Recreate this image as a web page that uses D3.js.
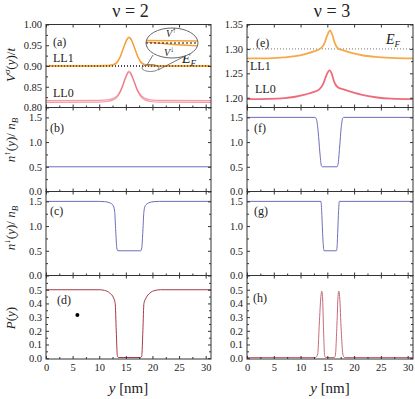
<!DOCTYPE html>
<html>
<head>
<meta charset="utf-8">
<script src="https://cdn.jsdelivr.net/npm/d3@7"></script>
<style>
  body { margin: 0; background: #fff; }
  svg { display: block; }
  text { font-family: "Liberation Serif", "DejaVu Serif", serif; fill: #222; }
</style>
</head>
<body>
<div id="chart"></div>
<script>
// ---- data: [y (nm), value] ----
const xTicks = [0, 5, 10, 15, 20, 25, 30]
const columnTitles = ['ν = 2', 'ν = 3']
const fermiLevel = [0.90, 1.30]

// nu = 2
const ll1Up2 = [[0,0.901],[9,0.901],[11,0.9015],[12.3,0.903],[13.2,0.908],[13.9,0.922],[14.6,0.946],[15.2,0.965],[15.6,0.970],[16.0,0.965],[16.6,0.946],[17.3,0.922],[18.0,0.908],[18.9,0.903],[20.2,0.9015],[22,0.901],[31,0.901]]
const ll1Dn2 = [[0,0.899],[9,0.899],[11,0.8995],[12.3,0.901],[13.2,0.906],[13.9,0.920],[14.6,0.944],[15.2,0.963],[15.6,0.968],[16.0,0.963],[16.6,0.944],[17.3,0.920],[18.0,0.906],[18.9,0.901],[20.2,0.8995],[22,0.899],[31,0.899]]
const ll0Up2 = [[0,0.8165],[10,0.817],[11.8,0.819],[12.8,0.823],[13.6,0.832],[14.3,0.85],[14.9,0.872],[15.4,0.886],[15.6,0.888],[15.9,0.884],[16.5,0.866],[17.1,0.845],[17.8,0.83],[18.6,0.822],[19.6,0.8185],[21.5,0.817],[31,0.8165]]
const ll0Dn2 = [[0,0.8125],[10,0.813],[11.8,0.815],[12.8,0.819],[13.6,0.829],[14.3,0.847],[14.9,0.869],[15.4,0.883],[15.6,0.885],[15.9,0.881],[16.5,0.863],[17.1,0.842],[17.8,0.827],[18.6,0.818],[19.6,0.8145],[21.5,0.813],[31,0.8125]]
const nUp2 = [[0,0.5],[31,0.5]]
const nDn2 = [[0,1.5],[10,1.5],[11,1.495],[12,1.47],[12.6,1.42],[12.9,1.3],[13.1,0.9],[13.3,0.56],[13.5,0.5],[17.8,0.5],[18.0,0.56],[18.2,0.9],[18.4,1.3],[18.7,1.42],[19.3,1.47],[20.3,1.495],[21.3,1.5],[31,1.5]]
const pol2 = [[0,0.5],[10,0.5],[11,0.495],[12,0.475],[12.7,0.44],[13.0,0.4],[13.2,0.2],[13.4,0.02],[13.6,0.005],[17.8,0.005],[18.0,0.02],[18.2,0.2],[18.4,0.4],[18.8,0.44],[19.5,0.475],[20.5,0.495],[21.5,0.5],[31,0.5]]
const dot2 = [[5.9, 0.316]]

// nu = 3
const ll1_3 = [[0,1.2805],[4,1.2808],[7,1.2825],[9,1.285],[11,1.29],[12.5,1.295],[13.6,1.300],[14.4,1.31],[15.0,1.328],[15.5,1.338],[15.9,1.33],[16.4,1.312],[17.0,1.301],[18,1.297],[19.5,1.292],[21.5,1.287],[24,1.2835],[27,1.2815],[31,1.2805]]
const ll0_3 = [[0,1.197],[4,1.1975],[7,1.199],[9,1.202],[11,1.207],[12.5,1.212],[13.5,1.217],[14.3,1.23],[14.9,1.248],[15.4,1.256],[15.8,1.25],[16.3,1.232],[16.9,1.222],[18,1.217],[19.5,1.212],[21.5,1.206],[24,1.201],[27,1.198],[31,1.197]]
const nUp3 = [[0,1.5],[12.7,1.5],[13.0,1.45],[13.3,1.2],[13.6,0.8],[13.9,0.52],[14.1,0.5],[16.8,0.5],[17.0,0.55],[17.3,0.9],[17.6,1.3],[17.9,1.49],[18.1,1.5],[31,1.5]]
const nDn3 = [[0,1.5],[13.8,1.5],[13.95,1.3],[14.1,0.9],[14.3,0.55],[14.4,0.5],[16.7,0.5],[16.8,0.55],[16.95,0.9],[17.1,1.3],[17.25,1.5],[31,1.5]]
const pol3 = [[0,0.005],[12.8,0.005],[13.2,0.03],[13.5,0.25],[13.8,0.45],[13.95,0.49],[14.1,0.45],[14.3,0.2],[14.5,0.02],[14.7,0.005],[16.3,0.005],[16.5,0.02],[16.8,0.25],[17.0,0.45],[17.15,0.49],[17.3,0.45],[17.6,0.2],[17.9,0.03],[18.2,0.005],[31,0.005]]

// ---- layout ----
const width = 415
const height = 399
const cols = [[46, 211], [247, 413]]
const rows = [24.5, 107.5, 191.5, 275.5, 359]

const orange = '#f5a035'
const red = '#e8394e'
const blue = '#6d6dbb'

const panels = [
  { col: 0, row: 0, dom: [0.80, 1.00], major: [0.80,0.85,0.90,0.95,1.00], fmt: '.2f', label: '(a)', lx: 53, ly: 46,
    series: [
      { d: ll0Up2, c: red, w: 1.2, o: 0.5 }, { d: ll0Dn2, c: red, w: 1.2, o: 0.5 },
      { d: ll1Up2, c: orange, w: 1.1, o: 1 }, { d: ll1Dn2, c: orange, w: 1.1, o: 1 }] },
  { col: 0, row: 1, dom: [0, 1.7], major: [0,0.5,1.0,1.5], fmt: '.1f', label: '(b)', lx: 50, ly: 132,
    series: [{ d: nUp2, c: blue, w: 1, o: 1 }] },
  { col: 0, row: 2, dom: [0, 1.7], major: [0,0.5,1.0,1.5], fmt: '.1f', label: '(c)', lx: 50, ly: 215,
    series: [{ d: nDn2, c: blue, w: 1, o: 1 }] },
  { col: 0, row: 3, dom: [-0.006, 0.604], major: [0,0.1,0.2,0.3,0.4,0.5], fmt: '.1f', label: '(d)', lx: 57, ly: 304,
    series: [{ d: pol2, c: '#a83a44', w: 1, o: 1 }] },
  { col: 1, row: 0, dom: [1.18, 1.35], major: [1.20,1.25,1.30,1.35], fmt: '.2f', label: '(e)', lx: 256, ly: 47,
    series: [{ d: ll0_3, c: red, w: 1.8, o: 0.75 }, { d: ll1_3, c: orange, w: 1.8, o: 0.9 }] },
  { col: 1, row: 1, dom: [0, 1.7], major: [0,0.5,1.0,1.5], fmt: '.1f', label: '(f)', lx: 254, ly: 132,
    series: [{ d: nUp3, c: blue, w: 1, o: 1 }] },
  { col: 1, row: 2, dom: [0, 1.7], major: [0,0.5,1.0,1.5], fmt: '.1f', label: '(g)', lx: 254, ly: 215,
    series: [{ d: nDn3, c: blue, w: 1, o: 1 }] },
  { col: 1, row: 3, dom: [-0.006, 0.604], major: [0,0.1,0.2,0.3,0.4,0.5], fmt: '.1f', label: '(h)', lx: 253, ly: 302,
    series: [{ d: pol3, c: '#c46a78', w: 1, o: 1 }] },
]

d3.select('#chart').selectAll('*').remove()
const svg = d3.select('#chart').append('svg')
  .attr('width', width).attr('height', height)
  .attr('viewBox', [0, 0, width, height])

const clip = svg.append('defs')
panels.forEach((p, i) => {
  const [x0, x1] = cols[p.col]
  clip.append('clipPath').attr('id', 'clip' + i)
    .append('rect').attr('x', x0).attr('y', rows[p.row]).attr('width', x1 - x0).attr('height', rows[p.row + 1] - rows[p.row])
})

const scales = panels.map(p => {
  const x = d3.scaleLinear().domain([0, 31]).range(cols[p.col])
  const y = d3.scaleLinear().domain(p.dom).range([rows[p.row + 1], rows[p.row]])
  return { x, y }
})

const minorOf = (major) => {
  const step = major[1] - major[0]
  return major.map(v => v + step / 2)
}

panels.forEach((p, i) => {
  const { x, y } = scales[i]
  const [x0, x1] = cols[p.col]
  const top = rows[p.row], bot = rows[p.row + 1]
  const g = svg.append('g').attr('class', 'panel')

  // E_F dotted line
  if (p.row === 0) {
    g.append('line')
      .attr('x1', x0).attr('x2', x1)
      .attr('y1', y(fermiLevel[p.col])).attr('y2', y(fermiLevel[p.col]))
      .attr('stroke', p.col === 0 ? '#111' : '#777').attr('stroke-width', 1)
      .attr('stroke-dasharray', '1,2')
  }

  const line = d3.line().x(d => x(d[0])).y(d => y(d[1])).curve(d3.curveMonotoneX)
  g.append('g').attr('clip-path', `url(#clip${i})`)
    .selectAll('path').data(p.series).join('path')
    .attr('d', s => line(s.d))
    .attr('fill', 'none')
    .attr('stroke', s => s.c)
    .attr('stroke-width', s => s.w)
    .attr('stroke-opacity', s => s.o)

  if (p.row === 0 && p.col === 0) {
    // draw E_F again on top of the orange lines
    g.append('line')
      .attr('x1', x0).attr('x2', x1)
      .attr('y1', y(fermiLevel[0])).attr('y2', y(fermiLevel[0]))
      .attr('stroke', '#111').attr('stroke-width', 1).attr('stroke-dasharray', '1,2')
  }

  // axes with inward ticks
  const yTicksMinor = minorOf(p.major).filter(v => v < p.dom[1])
  const axL = d3.axisLeft(y).tickValues(p.major).tickFormat(d3.format(p.fmt)).tickSize(-3).tickPadding(4)
  const axLm = d3.axisLeft(y).tickValues(yTicksMinor).tickFormat('').tickSize(-2)
  const axR = d3.axisRight(y).tickValues(p.major).tickFormat('').tickSize(-3)
  const axRm = d3.axisRight(y).tickValues(yTicksMinor).tickFormat('').tickSize(-2)
  const axT = d3.axisTop(x).tickValues(xTicks).tickFormat('').tickSize(-3)
  const axB = d3.axisBottom(x).tickValues(xTicks).tickSize(-3).tickPadding(5)
    .tickFormat(p.row === 3 ? d3.format('d') : '')
  const axBm = d3.axisBottom(x).tickValues(xTicks.map(v => v + 2.5).filter(v => v < 31)).tickFormat('').tickSize(-2)

  const put = (ax, tx, ty) => g.append('g').attr('transform', `translate(${tx},${ty})`).call(ax)
  put(axL, x0, 0); put(axLm, x0, 0)
  put(axR, x1, 0); put(axRm, x1, 0)
  put(axT, 0, top)
  put(axB, 0, bot); put(axBm, 0, bot)
  g.selectAll('.domain').remove()
  g.selectAll('.tick line').attr('stroke', '#333')
  g.selectAll('.tick text').attr('font-size', 10.5).attr('fill', '#222')
    .style('font-family', '"Liberation Serif", serif')

  g.append('rect').attr('x', x0).attr('y', top).attr('width', x1 - x0).attr('height', bot - top)
    .attr('fill', 'none').attr('stroke', '#333').attr('stroke-width', 1)

  g.append('text').attr('x', p.lx).attr('y', p.ly).attr('font-size', 12).text(p.label)
})

// black marker in (d)
svg.append('g').selectAll('circle').data(dot2).join('circle')
  .attr('cx', d => scales[3].x(d[0])).attr('cy', d => scales[3].y(d[1]))
  .attr('r', 2).attr('fill', '#000')

// LL labels
const llText = [
  { t: 'LL1', x: 53, y: 62 }, { t: 'LL0', x: 53, y: 97 },
  { t: 'LL1', x: 250, y: 70 }, { t: 'LL0', x: 255, y: 93 },
]
svg.append('g').selectAll('text').data(llText).join('text')
  .attr('x', d => d.x).attr('y', d => d.y).attr('font-size', 12).text(d => d.t)

// E_F labels
const efPos = [{ x: 182, y: 63 }, { x: 386, y: 44 }]
efPos.forEach(e => {
  const t = svg.append('text').attr('x', e.x).attr('y', e.y).attr('font-size', 14)
  t.append('tspan').attr('font-style', 'italic').text('E')
  t.append('tspan').attr('font-style', 'italic').attr('font-size', 9).attr('dy', 3).text('F')
})

// inset in (a): magnified view around E_F
const inset = svg.append('g')
inset.append('ellipse').attr('cx', 150.5).attr('cy', 68).attr('rx', 8.5).attr('ry', 3.5)
  .attr('fill', 'none').attr('stroke', '#666').attr('stroke-width', 0.8)
inset.append('line').attr('x1', 147).attr('y1', 65).attr('x2', 153).attr('y2', 55).attr('stroke', '#555').attr('stroke-width', 0.8)
inset.append('line').attr('x1', 158).attr('y1', 70).attr('x2', 185).attr('y2', 56).attr('stroke', '#555').attr('stroke-width', 0.8)
inset.append('clipPath').attr('id', 'insetClip')
  .append('ellipse').attr('cx', 172).attr('cy', 43).attr('rx', 26).attr('ry', 15)
const ins = inset.append('g').attr('clip-path', 'url(#insetClip)')
ins.append('ellipse').attr('cx', 172).attr('cy', 43).attr('rx', 26).attr('ry', 15).attr('fill', '#fff')
ins.append('path').attr('d', 'M144,40.5 L200,41').attr('stroke', orange).attr('stroke-width', 1.3).attr('fill', 'none')
ins.append('path').attr('d', 'M144,42 C160,43 180,45.5 200,46').attr('stroke', orange).attr('stroke-width', 1.3).attr('fill', 'none')
ins.append('line').attr('x1', 146).attr('x2', 198).attr('y1', 43).attr('y2', 43)
  .attr('stroke', '#111').attr('stroke-dasharray', '2,2').attr('stroke-width', 1)
inset.append('ellipse').attr('cx', 172).attr('cy', 43).attr('rx', 26).attr('ry', 15)
  .attr('fill', 'none').attr('stroke', '#555').attr('stroke-width', 0.9)
const vUp = inset.append('text').attr('x', 166).attr('y', 37).attr('font-size', 10)
vUp.append('tspan').attr('font-style', 'italic').text('V')
vUp.append('tspan').attr('font-size', 8).attr('dy', -4).text('↑')
const vDn = inset.append('text').attr('x', 164).attr('y', 56).attr('font-size', 10)
vDn.append('tspan').attr('font-style', 'italic').text('V')
vDn.append('tspan').attr('font-size', 8).attr('dy', -4).text('↓')

// column titles
svg.append('g').selectAll('text').data(columnTitles).join('text')
  .attr('x', (d, i) => (cols[i][0] + cols[i][1]) / 2 + 2)
  .attr('y', 17).attr('text-anchor', 'middle').attr('font-size', 18).text(d => d)

// x axis titles
cols.forEach(c => {
  const t = svg.append('text').attr('x', (c[0] + c[1]) / 2).attr('y', 393)
    .attr('text-anchor', 'middle').attr('font-size', 15)
  t.append('tspan').attr('font-style', 'italic').text('y')
  t.append('tspan').text(' [nm]')
})

// y axis titles (left column only)
const yTitle = (cy, build) => {
  const t = svg.append('text').attr('transform', `translate(15,${cy}) rotate(-90)`)
    .attr('text-anchor', 'middle').attr('font-size', 13)
  build(t)
}
yTitle(65, t => {
  t.append('tspan').attr('font-style', 'italic').text('V')
  t.append('tspan').attr('font-style', 'italic').attr('font-size', 9).attr('dy', -5).text('σ')
  t.append('tspan').attr('dy', 5).text('(')
  t.append('tspan').attr('font-style', 'italic').text('y')
  t.append('tspan').text(')/')
  t.append('tspan').attr('font-style', 'italic').text('t')
})
const nTitle = (cy, arrow) => yTitle(cy, t => {
  t.append('tspan').attr('font-style', 'italic').text('n')
  t.append('tspan').attr('font-size', 9).attr('dy', -5).text(arrow)
  t.append('tspan').attr('dy', 5).text('(')
  t.append('tspan').attr('font-style', 'italic').text('y')
  t.append('tspan').text(')/ ')
  t.append('tspan').attr('font-style', 'italic').text('n')
  t.append('tspan').attr('font-style', 'italic').attr('font-size', 9).attr('dy', 3).text('B')
})
nTitle(140, '↑')
nTitle(228, '↓')
yTitle(318, t => {
  t.append('tspan').attr('font-style', 'italic').text('P')
  t.append('tspan').text('(')
  t.append('tspan').attr('font-style', 'italic').text('y')
  t.append('tspan').text(')')
})
</script>
</body>
</html>
